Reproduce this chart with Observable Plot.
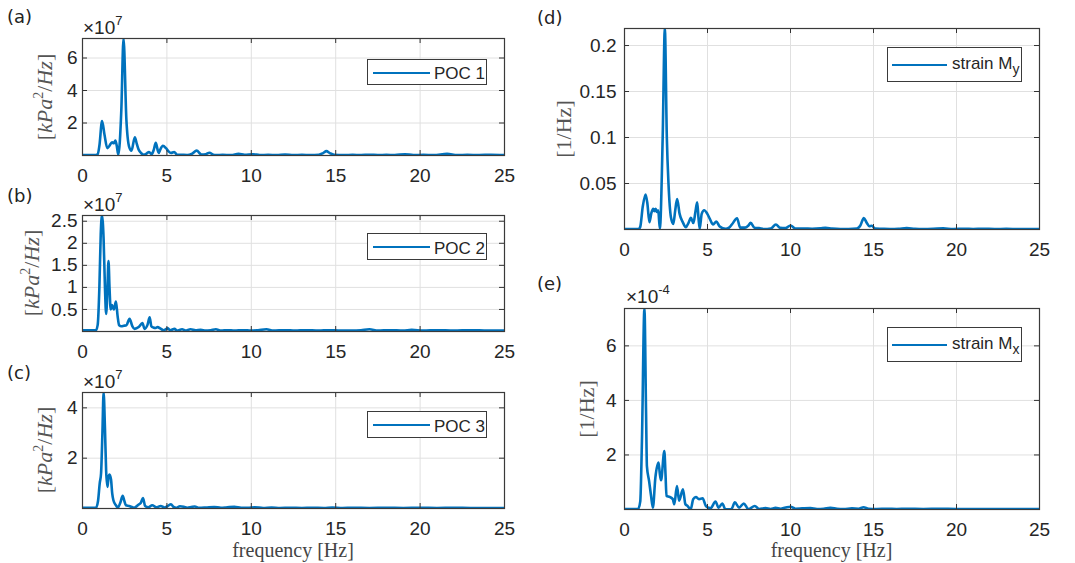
<!DOCTYPE html>
<html><head><meta charset="utf-8">
<script src="https://cdn.jsdelivr.net/npm/d3@7"></script>
<script src="https://cdn.jsdelivr.net/npm/@observablehq/plot@0.6"></script>
<style>
body{margin:0;background:#fff;}
#root{position:relative;width:1075px;height:563px;overflow:hidden;background:#fff;color:#262626;font-family:"Liberation Sans",Arial,sans-serif;}
.abs{position:absolute;white-space:nowrap;}
.plab{font-family:"DejaVu Sans",sans-serif;font-size:18px;line-height:18px;transform:translateY(-50%);color:#222;}
.exp{font-family:"Liberation Sans",Arial,sans-serif;font-size:19px;line-height:19px;transform:translateY(-50%);color:#262626;}
.exp sup{font-size:13px;position:relative;top:-9px;vertical-align:baseline;}
.ylab{font-family:"Liberation Serif",serif;font-size:22px;line-height:22px;color:#555;transform:translate(-50%,-50%) rotate(-90deg);}
.ylab sup{font-size:14px;vertical-align:baseline;position:relative;top:-9px;}
.xlab{font-family:"Liberation Serif",serif;font-size:20px;line-height:21px;color:#444;transform:translate(-50%,-50%);}
.legend{position:absolute;border:1px solid #3a3a3a;background:#fff;box-sizing:border-box;}
.legend .ln{position:absolute;height:0;border-top:2.6px solid #0072BD;}
.legend .tx{position:absolute;font-family:"Liberation Sans",Arial,sans-serif;font-size:17px;line-height:17px;color:#262626;transform:translateY(-50%);white-space:nowrap;}
.legend .tx sub{font-size:14px;line-height:14px;position:relative;top:5px;vertical-align:baseline;}
</style>
</head><body><div id="root"></div>
<script>
// ---------- data ----------
const xTicks = [0, 5, 10, 15, 20, 25];
const gridTicks = [5, 10, 15, 20];

// (a) POC 1, units of 1e7 kPa^2/Hz
const freqA = [0,0.8,0.9,1.0,1.16,1.3,1.47,1.6,1.75,1.85,1.95,2.03,2.12,2.3,2.43,2.6,2.76,2.9,3.1,3.22,3.33,3.5,3.62,3.8,3.94,4.1,4.22,4.34,4.45,4.51,4.6,4.76,4.95,5.1,5.24,5.43,5.6,5.9,6.2,6.5,6.76,7.05,7.3,7.52,7.75,7.9,8.3,8.8,9.25,9.6,10.1,10.5,11,11.5,12,12.5,13,13.5,14,14.25,14.45,14.65,14.9,15.5,16,16.5,17,17.5,18,18.5,19.1,19.6,20.2,20.8,21.6,22.2,22.8,23.5,24.2,25];
const psdA = [0.03,0.03,0.08,0.6,2.12,1.3,0.45,0.6,0.82,0.75,0.92,0.6,0.05,2.8,7.2,2.2,0.55,0.3,1.12,0.7,0.35,0.12,0.05,0.12,0.22,0.08,0.35,0.78,0.35,0.15,0.35,0.6,0.45,0.25,0.15,0.22,0.05,0.04,0.03,0.12,0.3,0.06,0.08,0.17,0.05,0.03,0.04,0.03,0.1,0.04,0.08,0.03,0.04,0.03,0.06,0.03,0.04,0.03,0.05,0.15,0.27,0.15,0.05,0.03,0.04,0.03,0.05,0.03,0.04,0.03,0.08,0.03,0.04,0.03,0.1,0.03,0.04,0.03,0.05,0.03];
const yTicksA = [2, 4, 6];
const yMaxA = 7.2;

// (b) POC 2, units of 1e7 kPa^2/Hz
const freqB = [0,0.8,0.9,1.0,1.08,1.15,1.25,1.33,1.4,1.48,1.54,1.6,1.67,1.74,1.8,1.86,1.98,2.08,2.17,2.3,2.45,2.6,2.79,2.95,3.08,3.33,3.55,3.68,3.85,3.98,4.08,4.2,4.3,4.45,4.6,4.8,5.05,5.2,5.45,5.6,5.9,6.1,6.4,6.7,7.0,7.3,7.6,7.9,8.2,8.6,9.0,9.5,10,10.4,10.9,11.3,12,12.6,13.2,14,14.6,15.3,16,16.5,17,17.5,18.2,19,19.5,20.2,21,22,23,24,25];
const psdB = [0.03,0.03,0.15,1.0,2.2,2.63,2.1,1.0,0.4,1.0,1.6,1.0,0.5,0.6,0.55,0.5,0.68,0.35,0.14,0.12,0.13,0.14,0.29,0.12,0.06,0.1,0.19,0.06,0.15,0.32,0.12,0.09,0.08,0.1,0.07,0.03,0.07,0.03,0.06,0.02,0.05,0.02,0.05,0.03,0.04,0.02,0.03,0.05,0.02,0.03,0.02,0.03,0.02,0.03,0.05,0.02,0.03,0.02,0.03,0.02,0.03,0.02,0.02,0.03,0.05,0.02,0.03,0.02,0.04,0.02,0.03,0.02,0.03,0.02,0.02];
const yTicksB = [0.5, 1, 1.5, 2, 2.5];
const yMaxB = 2.63;

// (c) POC 3, units of 1e7 kPa^2/Hz
const freqC = [0,0.8,0.92,1.02,1.1,1.18,1.25,1.33,1.4,1.48,1.54,1.6,1.69,1.76,1.83,1.98,2.1,2.25,2.38,2.48,2.57,2.76,3.05,3.33,3.45,3.58,3.71,3.9,4.13,4.38,4.63,4.86,5.05,5.24,5.4,5.55,5.77,6.0,6.2,6.5,6.65,6.9,7.3,7.8,8.2,8.5,9.0,9.4,9.8,10.2,10.7,11.2,11.7,12.3,13,13.6,14.3,14.8,15.4,16,17,18,19,20,21,22,23,24,25];
const psdC = [0.03,0.03,0.3,1.0,1.4,3.0,4.61,3.2,1.5,0.86,1.25,1.35,1.15,0.6,0.33,0.13,0.04,0.25,0.5,0.3,0.13,0.1,0.03,0.16,0.22,0.42,0.1,0.05,0.13,0.05,0.1,0.04,0.1,0.17,0.06,0.03,0.09,0.07,0.03,0.07,0.08,0.03,0.04,0.06,0.03,0.04,0.07,0.03,0.03,0.05,0.02,0.04,0.02,0.03,0.02,0.03,0.02,0.04,0.02,0.03,0.02,0.03,0.02,0.03,0.02,0.03,0.02,0.02,0.02];
const yTicksC = [2, 4];
const yMaxC = 4.61;

// (d) strain M_y, 1/Hz
const freqD = [0,0.85,0.95,1.1,1.27,1.38,1.5,1.62,1.73,1.8,1.88,1.95,2.03,2.13,2.3,2.43,2.55,2.65,2.8,2.94,3.05,3.17,3.32,3.51,3.7,3.85,4.0,4.15,4.28,4.38,4.46,4.53,4.65,4.8,4.99,5.14,5.34,5.53,5.72,6.1,6.3,6.49,6.78,6.97,7.26,7.45,7.6,7.83,8.1,8.4,8.8,9.12,9.37,9.7,10.0,10.3,10.8,11.3,11.8,12.1,12.5,13,13.5,14.0,14.2,14.42,14.6,14.75,14.9,15.1,15.5,16,16.5,17,17.5,18,18.6,19.2,19.8,20.5,21,21.6,22.3,23,23.8,24.5,25];
const psdD = [0.0005,0.0005,0.003,0.025,0.038,0.028,0.008,0.018,0.0224,0.02,0.0224,0.019,0.021,0.001,0.1,0.2185,0.1,0.05,0.013,0.006,0.02,0.033,0.017,0.008,0.0025,0.007,0.0126,0.007,0.02,0.0296,0.012,0.0007,0.017,0.021,0.017,0.0116,0.0054,0.0087,0.0036,0.0007,0.002,0.006,0.0123,0.002,0.002,0.004,0.0072,0.002,0.0015,0.0004,0.001,0.0054,0.0018,0.0015,0.0043,0.001,0.001,0.0008,0.0012,0.0018,0.001,0.0005,0.0005,0.001,0.004,0.0124,0.007,0.0035,0.004,0.001,0.0008,0.0006,0.0008,0.0015,0.0008,0.0006,0.0008,0.0012,0.0006,0.0008,0.0006,0.0008,0.0005,0.0007,0.0005,0.0006,0.0005];
const yTicksD = [0.05, 0.1, 0.15, 0.2];
const yMaxD = 0.2185;

// (e) strain M_x, units of 1e-4 1/Hz
const freqE = [0,0.82,0.95,1.05,1.2,1.3,1.35,1.48,1.6,1.71,1.86,2.05,2.13,2.2,2.4,2.47,2.53,2.72,2.91,3.0,3.16,3.29,3.52,3.67,3.8,3.99,4.14,4.3,4.49,4.71,4.9,5.19,5.48,5.67,5.89,6.08,6.43,6.65,6.9,7.19,7.47,7.85,8.1,8.5,8.8,9.1,9.4,9.7,10.0,10.3,10.7,11.2,11.6,12.0,12.4,12.8,13.2,13.7,14.1,14.4,14.7,15.2,15.8,16.4,17,18,19,20,21,22,23,24,25];
const psdE = [0.02,0.02,0.3,2.5,7.37,3.5,1.59,1.05,0.5,0.07,1.17,1.72,1.3,1.07,2.14,1.3,0.5,0.46,0.38,0.19,0.86,0.32,0.74,0.19,0.13,0.01,0.38,0.46,0.38,0.41,0.13,0.05,0.29,0.07,0.22,0.01,0.01,0.26,0.07,0.22,0.01,0.13,0.02,0.05,0.02,0.06,0.03,0.07,0.1,0.03,0.04,0.05,0.02,0.03,0.06,0.03,0.02,0.04,0.03,0.08,0.03,0.02,0.03,0.02,0.03,0.02,0.03,0.02,0.02,0.02,0.02,0.02,0.02];
const yTicksE = [2, 4, 6];
const yMaxE = 7.37;

// ---------- drawing ----------
const root = document.getElementById("root");
const BLUE = "#0072BD";

function panel(f, v, ymax, yticks, box, ypad) {
  const ml = 60, mr = 20, mt = 10, mb = 40;
  const w = box.x1 - box.x0, h = box.y1 - box.y0;
  const data = f.map((x, i) => ({f: x, v: v[i]}));
  const svg = Plot.plot({
    width: w + ml + mr, height: h + mt + mb,
    marginLeft: ml, marginRight: mr, marginTop: mt, marginBottom: mb,
    x: {domain: [0, 25]},
    y: {domain: [0, ymax]},
    style: {background: "transparent", overflow: "visible", fontFamily: "'Liberation Sans', Arial, sans-serif", fontSize: "19px", color: "#262626"},
    marks: [
      Plot.gridX(gridTicks, {stroke: "#e0e0e0", strokeOpacity: 1, strokeWidth: 1}),
      Plot.gridY(yticks, {stroke: "#e0e0e0", strokeOpacity: 1, strokeWidth: 1}),
      Plot.line(data, {x: "f", y: "v", stroke: BLUE, strokeWidth: 2.6, curve: "monotone-x", clip: true}),
      Plot.ruleX(xTicks, {insetTop: h - 5, stroke: "#333"}),
      Plot.ruleX(xTicks, {insetBottom: h - 5, stroke: "#333"}),
      Plot.ruleY(yticks, {insetRight: w - 5, stroke: "#333"}),
      Plot.ruleY(yticks, {insetLeft: w - 5, stroke: "#333"}),
      Plot.frame({stroke: "#3a3a3a", strokeWidth: 1.2}),
      Plot.axisX(xTicks, {tickSize: 0, tickPadding: 13, label: null, tickFormat: (d) => String(d)}),
      Plot.axisY(yticks, {tickSize: 0, tickPadding: ypad, label: null, tickFormat: (d) => String(d)})
    ]
  });
  svg.style.position = "absolute";
  svg.style.left = (box.x0 - ml) + "px";
  svg.style.top = (box.y0 - mt) + "px";
  root.appendChild(svg);
}

function html(cls, x, y, inner) {
  const d = document.createElement("div");
  d.className = "abs " + cls;
  d.style.left = x + "px";
  d.style.top = y + "px";
  d.innerHTML = inner;
  root.appendChild(d);
  return d;
}

function legend(x, y, w, h, lineY, textY, lx0, lx1, tx, label) {
  const d = document.createElement("div");
  d.className = "legend";
  Object.assign(d.style, {left: x + "px", top: y + "px", width: w + "px", height: h + "px"});
  d.innerHTML = `<div class="ln" style="left:${lx0}px;width:${lx1 - lx0}px;top:${lineY - 1.3}px"></div>` +
    `<div class="tx" style="left:${tx}px;top:${textY}px">${label}</div>`;
  root.appendChild(d);
}

const boxA = {x0: 82, x1: 504, y0: 38, y1: 155};
const boxB = {x0: 82, x1: 504, y0: 215, y1: 331};
const boxC = {x0: 82, x1: 504, y0: 392, y1: 508};
const boxD = {x0: 624, x1: 1039, y0: 28, y1: 229};
const boxE = {x0: 624, x1: 1039, y0: 308, y1: 509};

panel(freqA, psdA, yMaxA, yTicksA, boxA, 5);
panel(freqB, psdB, yMaxB, yTicksB, boxB, 5);
panel(freqC, psdC, yMaxC, yTicksC, boxC, 5);
panel(freqD, psdD, yMaxD, yTicksD, boxD, 8);
panel(freqE, psdE, yMaxE, yTicksE, boxE, 8);

// panel letters
html("plab", 7, 17, "(a)");
html("plab", 7, 196, "(b)");
html("plab", 7, 373, "(c)");
html("plab", 537, 18, "(d)");
html("plab", 537, 284, "(e)");

// exponent labels
html("exp", 83, 28, "×10<sup>7</sup>");
html("exp", 83, 205, "×10<sup>7</sup>");
html("exp", 83, 382, "×10<sup>7</sup>");
html("exp", 626, 297, "×10<sup>-4</sup>");

// y labels
const kpa = "[<i>kPa</i><sup>2</sup>/<i>Hz</i>]";
html("ylab", 46, (boxA.y0 + boxA.y1) / 2, kpa);
html("ylab", 33, (boxB.y0 + boxB.y1) / 2, kpa);
html("ylab", 46, (boxC.y0 + boxC.y1) / 2, kpa);
html("ylab", 564, (boxD.y0 + boxD.y1) / 2, "[1/Hz]");
html("ylab", 587, (boxE.y0 + boxE.y1) / 2, "[1/Hz]");

// x labels
html("xlab", (boxC.x0 + boxC.x1) / 2, 550, "frequency [Hz]");
html("xlab", (boxE.x0 + boxE.x1) / 2, 550, "frequency [Hz]");

// legends
legend(367, 59, 120, 26, 13, 13, 5, 62, 66, "POC 1");
legend(367, 233, 120, 27, 13.5, 13.5, 5, 62, 66, "POC 2");
legend(367, 411, 120, 27, 13.5, 13.5, 5, 62, 66, "POC 3");
legend(887, 47, 135, 35, 17, 15, 4, 59, 64, "strain M<sub>y</sub>");
legend(887, 327, 135, 35, 17, 15, 4, 59, 64, "strain M<sub>x</sub>");
</script>
</body></html>
